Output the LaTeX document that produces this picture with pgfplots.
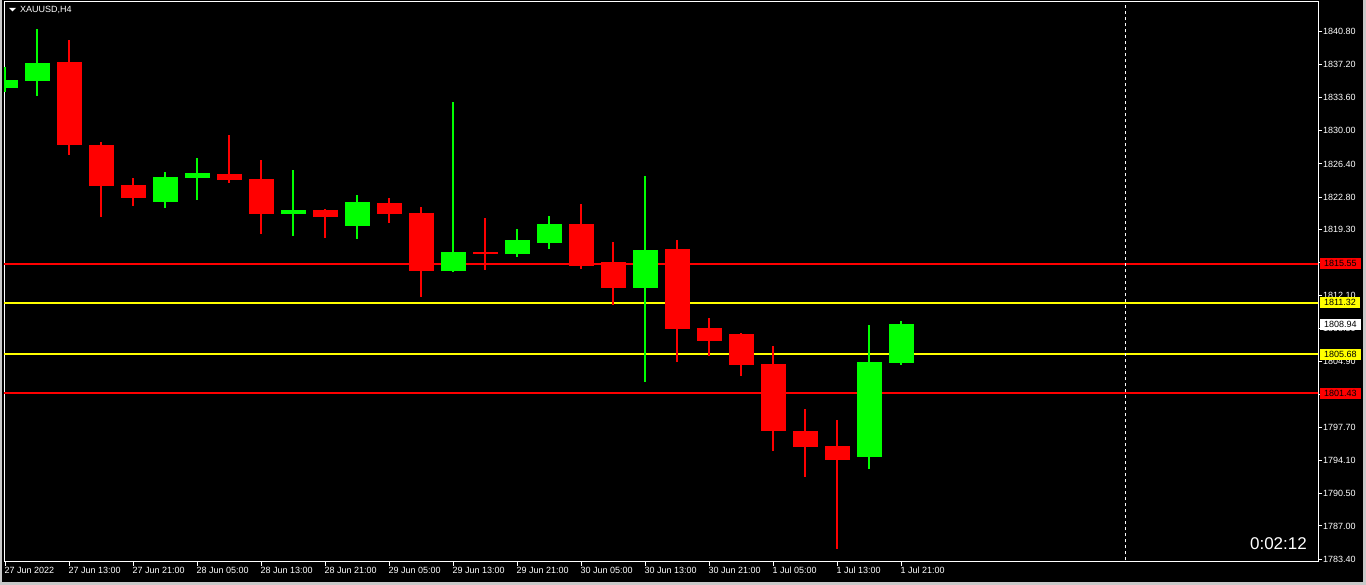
\documentclass[border=0pt]{standalone}
\usepackage{pgfplots}
\pgfplotsset{compat=1.18}
\usepackage{pgfplotstable}
\usepackage{fontspec}
\setmainfont{Liberation Sans}
\definecolor{bull}{RGB}{0,255,0}
\definecolor{bear}{RGB}{255,0,0}
\definecolor{lvl}{RGB}{255,255,0}
\definecolor{edge}{RGB}{200,200,200}

% i open high low close
\pgfplotstableread{
i o h l c
0 1834.70 1836.96 1834.27 1835.54
1 1835.47 1841.09 1833.83 1837.39
5 1822.30 1825.53 1821.64 1824.98
6 1824.91 1827.05 1822.51 1825.42
9 1820.99 1825.75 1818.59 1821.39
11 1819.68 1823.02 1818.27 1822.26
14 1814.75 1833.15 1814.68 1816.82
16 1816.60 1819.32 1816.31 1818.13
17 1817.80 1820.74 1817.15 1819.87
20 1812.93 1825.09 1802.70 1817.04
27 1794.54 1808.87 1793.23 1804.85
28 1804.77 1809.31 1804.55 1808.94
}\bulltable

\pgfplotstableread{
i o h l c
2 1837.50 1839.90 1827.41 1828.50
3 1828.47 1828.79 1820.66 1824.04
4 1824.11 1824.88 1821.86 1822.73
7 1825.31 1829.56 1824.36 1824.69
8 1824.77 1826.83 1818.81 1820.99
10 1821.39 1821.45 1818.38 1820.66
12 1822.15 1822.70 1820.01 1820.99
13 1821.07 1821.72 1811.95 1814.79
15 1816.82 1820.52 1814.86 1816.60
18 1819.87 1822.05 1814.97 1815.33
19 1815.73 1817.91 1811.05 1812.93
21 1817.15 1818.13 1804.88 1808.47
22 1808.55 1809.64 1805.53 1807.17
23 1807.89 1807.95 1803.36 1804.55
24 1804.63 1806.59 1795.19 1797.37
25 1797.34 1799.73 1792.36 1795.63
26 1795.70 1798.53 1784.52 1794.21
}\beartable

\begin{document}
\begin{tikzpicture}[font=\fontsize{9}{10}\selectfont]
\fill[black] (0,0) rectangle (1366pt,585pt);
\fill[edge] (0,0) rectangle (2pt,585pt);
\fill[edge] (0,0) rectangle (1366pt,3pt);
\fill[edge] (1363pt,0) rectangle (1366pt,585pt);
\begin{axis}[
  at={(4pt,23pt)}, anchor=south west,
  width=1314pt, height=560pt, scale only axis,
  xmin=-0.03125, xmax=41.03,
  ymin=1783.08, ymax=1844.03,
  clip mode=individual,
  axis line style={white, line width=1pt},
  tick align=outside, major tick length=4pt,
  tick style={white, line width=1pt},
  xtick pos=bottom, ytick pos=right,
  yticklabel pos=right,
  xtick={0,2,...,28},
  xticklabels={27 Jun 2022,27 Jun 13:00,27 Jun 21:00,28 Jun 05:00,28 Jun 13:00,28 Jun 21:00,29 Jun 05:00,29 Jun 13:00,29 Jun 21:00,30 Jun 05:00,30 Jun 13:00,30 Jun 21:00,1 Jul 05:00,1 Jul 13:00,1 Jul 21:00},
  ytick={1783.4,1787.0,1790.5,1794.1,1797.7,1801.3,1804.9,1808.5,1812.1,1815.7,1819.3,1822.8,1826.4,1830.0,1833.6,1837.2,1840.8},
  yticklabels={1783.40,1787.00,1790.50,1794.10,1797.70,1801.30,1804.90,1808.50,1812.10,1815.70,1819.30,1822.80,1826.40,1830.00,1833.60,1837.20,1840.80},
  /pgf/number format/assume math mode=true,
  xticklabel style={white, anchor=north west, inner sep=0pt, xshift=-0.5pt, yshift=-1pt, font=\fontsize{9}{10}\selectfont},
  yticklabel style={white, anchor=west, inner sep=0pt, xshift=1pt, font=\fontsize{9}{10}\selectfont},
]
% level lines
\addplot[bear, line width=2pt, forget plot] coordinates {(-1,1815.55) (42,1815.55)};
\addplot[bear, line width=2pt, forget plot] coordinates {(-1,1801.43) (42,1801.43)};
\addplot[lvl, line width=2pt, forget plot] coordinates {(-1,1811.32) (42,1811.32)};
\addplot[lvl, line width=2pt, forget plot] coordinates {(-1,1805.68) (42,1805.68)};
% future separator
\addplot[white, line width=1pt, dash pattern=on 3pt off 3pt, forget plot] coordinates {(35,1780) (35,1850)};
% wicks
\addplot[draw=bull, line width=1.3pt, -, quiver={u=0, v=\thisrow{h}-\thisrow{l}}]
  table[x=i, y=l] {\bulltable};
\addplot[draw=bear, line width=1.3pt, -, quiver={u=0, v=\thisrow{h}-\thisrow{l}}]
  table[x=i, y=l] {\beartable};
% bodies
\addplot[draw=bull, line width=25pt, line cap=butt, -, quiver={u=0, v=\thisrow{c}-\thisrow{o}}]
  table[x=i, y=o] {\bulltable};
\addplot[draw=bear, line width=25pt, line cap=butt, -, quiver={u=0, v=\thisrow{c}-\thisrow{o}}]
  table[x=i, y=o] {\beartable};
\coordinate (r1) at (axis cs:41.09,1815.55);
\coordinate (y1) at (axis cs:41.09,1811.32);
\coordinate (w1) at (axis cs:41.09,1808.94);
\coordinate (y2) at (axis cs:41.09,1805.68);
\coordinate (r2) at (axis cs:41.09,1801.43);
\end{axis}
\tikzset{pl/.style={anchor=west, inner xsep=4pt, inner ysep=0pt, minimum height=11pt, text=black, font=\fontsize{9}{10}\selectfont}}
\node[pl, fill=bear] at (r1) {1815.55};
\node[pl, fill=lvl] at (y1) {1811.32};
\node[pl, fill=white] at (w1) {1808.94};
\node[pl, fill=lvl] at (y2) {1805.68};
\node[pl, fill=bear] at (r2) {1801.43};
% title
\fill[white] (9pt,577pt) -- (16pt,577pt) -- (12.5pt,573.5pt) -- cycle;
\node[anchor=west, inner sep=0pt, text=white] at (20pt,575.5pt) {XAUUSD,H4};
% timer
\node[anchor=base east, inner sep=0pt, text=white, font=\fontsize{17}{18}\selectfont] at (1307pt,35.7pt) {0:02:12};
\pgfresetboundingbox
\useasboundingbox (0,0) rectangle (1366pt,585pt);
\end{tikzpicture}
\end{document}
